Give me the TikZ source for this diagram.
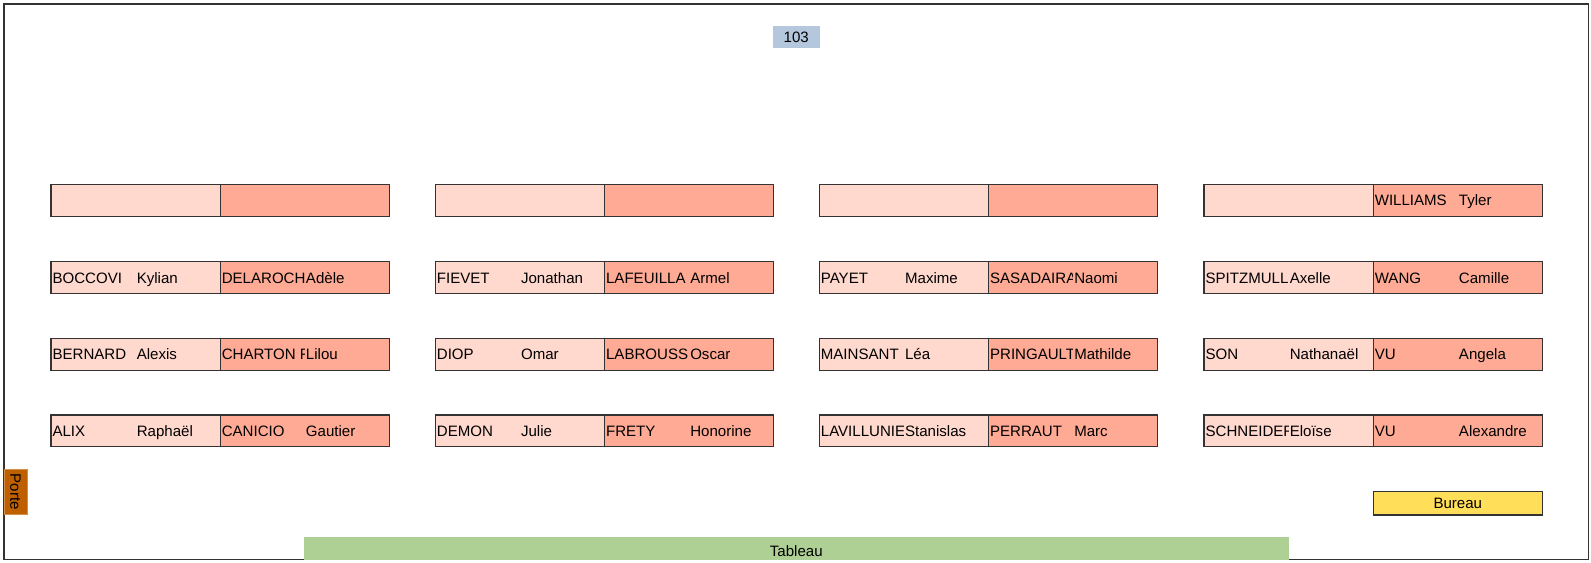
\documentclass[tikz,border=0pt]{standalone}
\usepackage{fontspec}
\setmainfont{Liberation Sans}
\usetikzlibrary{calc}
\definecolor{brickL}{HTML}{FFD8CE}
\definecolor{brickM}{HTML}{FFAA95}
\definecolor{roomblue}{HTML}{B4C7DC}
\definecolor{deskgold}{HTML}{FFDE59}
\definecolor{boardgreen}{HTML}{AFD095}
\definecolor{doororange}{HTML}{BF6000}
\definecolor{edge}{HTML}{333333}
\tikzset{
  cellbox/.style={draw=edge, line width=0.8pt, minimum width=126.9pt, minimum height=23.8pt, inner sep=0pt, outer sep=0pt, anchor=north west},
  nametext/.style={inner sep=0pt, anchor=base west, font=\fontsize{11.3}{13}\selectfont},
  labeltext/.style={inner sep=0pt, font=\fontsize{11.3}{13}\selectfont},
}
\newcommand\deskcell[6]{%
  \node[cellbox, fill=#4] (#1) at (#2,#3) {};
  \begin{scope}
    \clip (#2,#3) rectangle ({#2+84},{#3+31.7});
    \node[nametext] (#1-n) at ({#2+1.3},{#3+21.6}) {#5};
  \end{scope}
  \node[nametext] (#1-p) at ({#2+85.5},{#3+21.6}) {#6};
}
\newcommand\emptycell[4]{%
  \node[cellbox, fill=#4] (#1) at (#2,#3) {};
}
\begin{document}
\begin{tikzpicture}[x=0.75pt, y=-0.75pt]
\useasboundingbox (0,0) rectangle (1591,563);
% room frame
\draw[edge, line width=0.9pt] (4,4) rectangle (1588.3,559.5);
% room number
\node[fill=roomblue, minimum width=35.5pt, minimum height=16.7pt, inner sep=0pt, labeltext] (room) at (796.3,37.2) {103};
% row 1
\emptycell{a1l}{51}{184.3}{brickL}
\emptycell{a1r}{220.2}{184.3}{brickM}
\emptycell{b1l}{435.3}{184.3}{brickL}
\emptycell{b1r}{604.5}{184.3}{brickM}
\emptycell{c1l}{819.3}{184.3}{brickL}
\emptycell{c1r}{988.5}{184.3}{brickM}
\emptycell{d1l}{1204}{184.3}{brickL}
\deskcell{d1r}{1373.2}{184.3}{brickM}{WILLIAMS}{Tyler}
% row 2
\deskcell{a2l}{51}{261.7}{brickL}{BOCCOVI}{Kylian}
\deskcell{a2r}{220.2}{261.7}{brickM}{DELAROCH}{Adèle}
\deskcell{b2l}{435.3}{261.7}{brickL}{FIEVET}{Jonathan}
\deskcell{b2r}{604.5}{261.7}{brickM}{LAFEUILLA}{Armel}
\deskcell{c2l}{819.3}{261.7}{brickL}{PAYET}{Maxime}
\deskcell{c2r}{988.5}{261.7}{brickM}{SASADAIRA}{Naomi}
\deskcell{d2l}{1204}{261.7}{brickL}{SPITZMULL}{Axelle}
\deskcell{d2r}{1373.2}{261.7}{brickM}{WANG}{Camille}
% row 3
\deskcell{a3l}{51}{338.3}{brickL}{BERNARD}{Alexis}
\deskcell{a3r}{220.2}{338.3}{brickM}{CHARTON F}{Lilou}
\deskcell{b3l}{435.3}{338.3}{brickL}{DIOP}{Omar}
\deskcell{b3r}{604.5}{338.3}{brickM}{LABROUSS}{Oscar}
\deskcell{c3l}{819.3}{338.3}{brickL}{MAINSANT}{Léa}
\deskcell{c3r}{988.5}{338.3}{brickM}{PRINGAULT}{Mathilde}
\deskcell{d3l}{1204}{338.3}{brickL}{SON}{Nathanaël}
\deskcell{d3r}{1373.2}{338.3}{brickM}{VU}{Angela}
% row 4
\deskcell{a4l}{51}{415}{brickL}{ALIX}{Raphaël}
\deskcell{a4r}{220.2}{415}{brickM}{CANICIO}{Gautier}
\deskcell{b4l}{435.3}{415}{brickL}{DEMON}{Julie}
\deskcell{b4r}{604.5}{415}{brickM}{FRETY}{Honorine}
\deskcell{c4l}{819.3}{415}{brickL}{LAVILLUNIE}{Stanislas}
\deskcell{c4r}{988.5}{415}{brickM}{PERRAUT}{Marc}
\deskcell{d4l}{1204}{415}{brickL}{SCHNEIDER}{Eloïse}
\deskcell{d4r}{1373.2}{415}{brickM}{VU}{Alexandre}
% teacher desk
\node[draw=edge, line width=0.8pt, fill=deskgold, minimum width=126.9pt, minimum height=17.5pt, inner sep=0pt, labeltext] (bureau) at (1457.8,503.3) {Bureau};
% board
\node[fill=boardgreen, minimum width=738.5pt, minimum height=16.9pt, inner sep=0pt] (tableau) at (796.3,548.3) {};
\node[labeltext, anchor=base] (tableautext) at (796.3,556) {Tableau};
% door
\node[fill=doororange, draw=doororange!70, line width=0.5pt, minimum width=17.5pt, minimum height=33.5pt, inner sep=0pt] (porte) at (15.6,491.6) {};
\node[labeltext, rotate=-90] (portetext) at (porte.center) {Porte};
\end{tikzpicture}
\end{document}
